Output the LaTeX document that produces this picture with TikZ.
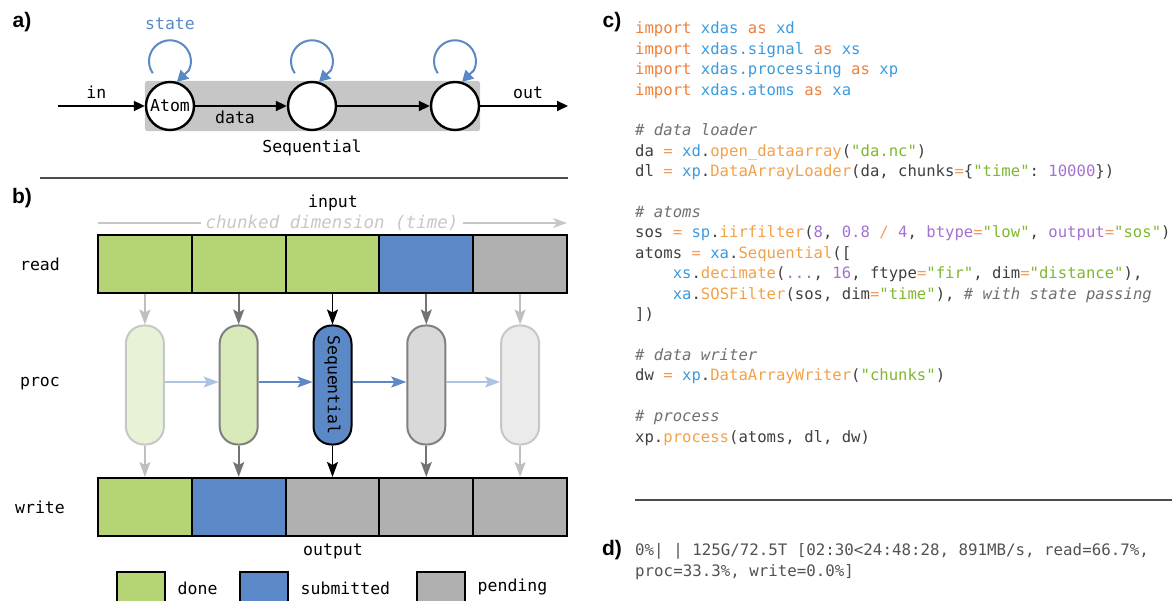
\documentclass[tikz,border=0pt]{standalone}
\usepackage{fontspec}
\setmainfont{Liberation Sans}
\setmonofont{DejaVu Sans Mono}
\usetikzlibrary{arrows.meta,positioning,calc,backgrounds}

\definecolor{donec}{HTML}{B4D476}
\definecolor{subc}{HTML}{5B88C6}
\definecolor{pendc}{HTML}{B0B0B0}
\definecolor{kwc}{HTML}{F07F3A}
\definecolor{modc}{HTML}{3A9BE0}
\definecolor{fnc}{HTML}{F2A14A}
\definecolor{strc}{HTML}{7EB82E}
\definecolor{numc}{HTML}{A371D1}
\definecolor{comc}{HTML}{6F6F6F}
\definecolor{eqc}{HTML}{F29B5C}
\definecolor{txtc}{HTML}{3F3F3F}

\newcommand{\lbl}{\ttfamily\fontsize{16.5}{19}\selectfont}
\newcommand{\codefont}{\ttfamily\fontsize{15.6}{20.4}\selectfont\color{txtc}}
\newcommand{\panel}{\bfseries\fontsize{21}{24}\selectfont}
\newcommand{\cKw}[1]{\textcolor{kwc}{#1}}
\newcommand{\cMod}[1]{\textcolor{modc}{#1}}
\newcommand{\cFn}[1]{\textcolor{fnc}{#1}}
\newcommand{\cStr}[1]{\textcolor{strc}{#1}}
\newcommand{\cNum}[1]{\textcolor{numc}{#1}}
\newcommand{\cEq}[1]{\textcolor{eqc}{#1}}
\newcommand{\cCom}[1]{\textcolor{comc}{\itshape #1}}

\tikzset{
    atom/.style={circle,draw,line width=2.4pt,fill=white,minimum size=48pt,inner sep=0pt,font=\lbl},
    flow/.style={-{Triangle[length=11pt,width=10pt]},line width=2pt},
    stateloop/.style={-{Triangle[length=11pt,width=12pt]},line width=2pt,draw=subc},
    cell/.style={draw,line width=2pt,minimum width=93.8pt,minimum height=58pt,inner sep=0pt},
    capsule/.style={draw,line width=2pt,rounded corners=18pt,minimum width=38pt,minimum height=119pt,inner sep=0pt},
    feed/.style={-{Stealth[length=15pt,width=11pt,inset=3pt]},line width=1.8pt},
    legbox/.style={draw,line width=2.4pt,minimum width=48pt,minimum height=38pt,inner sep=0pt},
    rule/.style={draw=black!70,line width=1.5pt},
    codeline/.style={anchor=base west,inner sep=0pt,font=\codefont}
}

\begin{document}
\begin{tikzpicture}[x=1pt,y=1pt,every node/.style={font=\lbl}]
    \clip (0,0) rectangle (1172,-601);

    % a) sequential atoms
    \node[font=\panel] (pa) at (22,-22) {a)};
    \node[atom] (A1) at (170,-106) {Atom};
    \node[atom] (A2) at (312,-106) {};
    \node[atom] (A3) at (455,-106) {};
    \begin{scope}[on background layer]
        \fill[gray!45] (A1.center |- A1.north) rectangle (A3.center |- A3.south);
        \fill[gray!45,rounded corners=3pt] (A1.west |- A1.north) rectangle (A3.east |- A3.south);
    \end{scope}
    \coordinate (ain) at (58,-106);
    \coordinate (aout) at (568,-106);
    \draw[flow] (ain) -- (A1) node[midway,above=3pt,xshift=-5pt] {in};
    \draw[flow] (A1) -- (A2) node[midway,below=1pt,xshift=-6pt] {data};
    \draw[flow] (A2) -- (A3);
    \draw[flow] (A3) -- (aout) node[midway,above=3pt,xshift=4pt] {out};
    \foreach \a in {A1,A2,A3}
        \draw[stateloop] ($(\a.north)+(-17.2,7.5)$) arc[start angle=215,end angle=-25,radius=21] -- ($(\a.north)+(7,-1)$);
    \node[text=subc] (st) at (170,-24) {state};
    \node (seq) at (312,-148) {Sequential};
    \draw[rule] (40,-178) -- (568,-178);

    % b) chunked processing
    \node[font=\panel] (pb) at (22,-198) {b)};
    \node (inp) at (333,-203) {input};
    \node[text=black!22,font=\ttfamily\itshape\fontsize{17.5}{20}\selectfont,inner sep=4pt] (chunk) at (332,-223) {chunked dimension (time)};
    \coordinate (cl) at (98,-223);
    \coordinate (cr) at (567,-223);
    \draw[black!22,line width=1.8pt] (cl) -- (chunk.west);
    \draw[black!22,line width=1.8pt,-{Stealth[length=14pt,width=10pt,inset=4pt]}] (chunk.east) -- (cr);

    \foreach \c [count=\i] in {donec,donec,donec,subc,pendc}
        \node[cell,fill=\c] (r\i) at ({98+93.8*(\i-0.5)},-264) {};
    \foreach \c [count=\i] in {donec,subc,pendc,pendc,pendc}
        \node[cell,fill=\c] (w\i) at ({98+93.8*(\i-0.5)},-507) {};
    \node (rl) at (40,-264) {read};
    \node (pl) at (40,-384) {proc};
    \node (wl) at (40,-507) {write};

    \node[capsule,draw=black!22,fill=donec!30] (c1) at (r1 |- 0,-385) {};
    \node[capsule,draw=black!50,fill=donec!50] (c2) at (r2 |- 0,-385) {};
    \node[capsule,draw=black,fill=subc] (c3) at (r3 |- 0,-385) {\rotatebox{-90}{Sequential}};
    \node[capsule,draw=black!50,fill=black!15] (c4) at (r4 |- 0,-385) {};
    \node[capsule,draw=black!22,fill=black!8] (c5) at (r5 |- 0,-385) {};

    \foreach \i/\c in {1/black!25,2/black!55,3/black,4/black!55,5/black!25} {
        \draw[feed,draw=\c,fill=\c] (r\i) -- (c\i);
        \draw[feed,draw=\c,fill=\c] (c\i) -- (w\i);
    }
    \foreach \i/\j/\c in {1/2/subc!50,2/3/subc,3/4/subc,4/5/subc!50}
        \draw[feed,draw=\c,fill=\c] ([yshift=3pt]c\i.east) -- ([yshift=3pt]c\j.west);

    \node (outp) at (333,-551) {output};
    \node[legbox,fill=donec] (ld) at (141,-591) {};
    \node[legbox,fill=subc] (ls) at (264,-591) {};
    \node[legbox,fill=pendc] (lp) at (441,-591) {};
    \node[right=8pt of ld,yshift=3pt] (ldt) {done};
    \node[right=8pt of ls,yshift=3pt] (lst) {submitted};
    \node[right=8pt of lp,yshift=4pt] (lpt) {pending};

    % c) code
    \node[font=\panel] (pc) at (612,-22) {c)};
    \node[codeline] (l1) at (635,-34) {\cKw{import} \cMod{xdas} \cKw{as} \cMod{xd}};
    \node[codeline] (l2) at (635,-54.4) {\cKw{import} \cMod{xdas.signal} \cKw{as} \cMod{xs}};
    \node[codeline] (l3) at (635,-74.8) {\cKw{import} \cMod{xdas.processing} \cKw{as} \cMod{xp}};
    \node[codeline] (l4) at (635,-95.2) {\cKw{import} \cMod{xdas.atoms} \cKw{as} \cMod{xa}};
    \node[codeline] (l6) at (635,-136) {\cCom{\# data loader}};
    \node[codeline] (l7) at (635,-156.4) {da \cEq{=} \cMod{xd}.\cFn{open\_dataarray}(\cStr{"da.nc"})};
    \node[codeline] (l8) at (635,-176.8) {dl \cEq{=} \cMod{xp}.\cFn{DataArrayLoader}(da, chunks\cEq{=}\{\cStr{"time"}: \cNum{10000}\})};
    \node[codeline] (l10) at (635,-217.6) {\cCom{\# atoms}};
    \node[codeline] (l11) at (635,-238) {sos \cEq{=} \cMod{sp}.\cFn{iirfilter}(\cNum{8}, \cNum{0.8} \cEq{/} \cNum{4}, \cNum{btype}\cEq{=}\cStr{"low"}, \cNum{output}\cEq{=}\cStr{"sos"})};
    \node[codeline] (l12) at (635,-258.4) {atoms \cEq{=} \cMod{xa}.\cFn{Sequential}([};
    \node[codeline] (l13) at (672.6,-278.8) {\cMod{xs}.\cFn{decimate}(\cNum{...}, \cNum{16}, ftype\cEq{=}\cStr{"fir"}, dim\cEq{=}\cStr{"distance"}),};
    \node[codeline] (l14) at (672.6,-299.2) {\cMod{xa}.\cFn{SOSFilter}(sos, dim\cEq{=}\cStr{"time"}), \cCom{\# with state passing}};
    \node[codeline] (l15) at (635,-319.6) {])};
    \node[codeline] (l17) at (635,-360.4) {\cCom{\# data writer}};
    \node[codeline] (l18) at (635,-380.8) {dw \cEq{=} \cMod{xp}.\cFn{DataArrayWriter}(\cStr{"chunks"})};
    \node[codeline] (l20) at (635,-421.6) {\cCom{\# process}};
    \node[codeline] (l21) at (635,-442) {xp.\cFn{process}(atoms, dl, dw)};
    \draw[rule] (635,-500) -- (1172,-500);

    % d) progress bar
    \node[font=\panel] (pd) at (612,-550) {d)};
    \node[codeline,font=\ttfamily\fontsize{15.8}{20}\selectfont\color{black!68}] (d1) at (635,-555.5) {0\%| | 125G/72.5T [02:30<24:48:28, 891MB/s, read=66.7\%,};
    \node[codeline,font=\ttfamily\fontsize{15.8}{20}\selectfont\color{black!68}] (d2) at (635,-576) {proc=33.3\%, write=0.0\%]};
\end{tikzpicture}
\end{document}
